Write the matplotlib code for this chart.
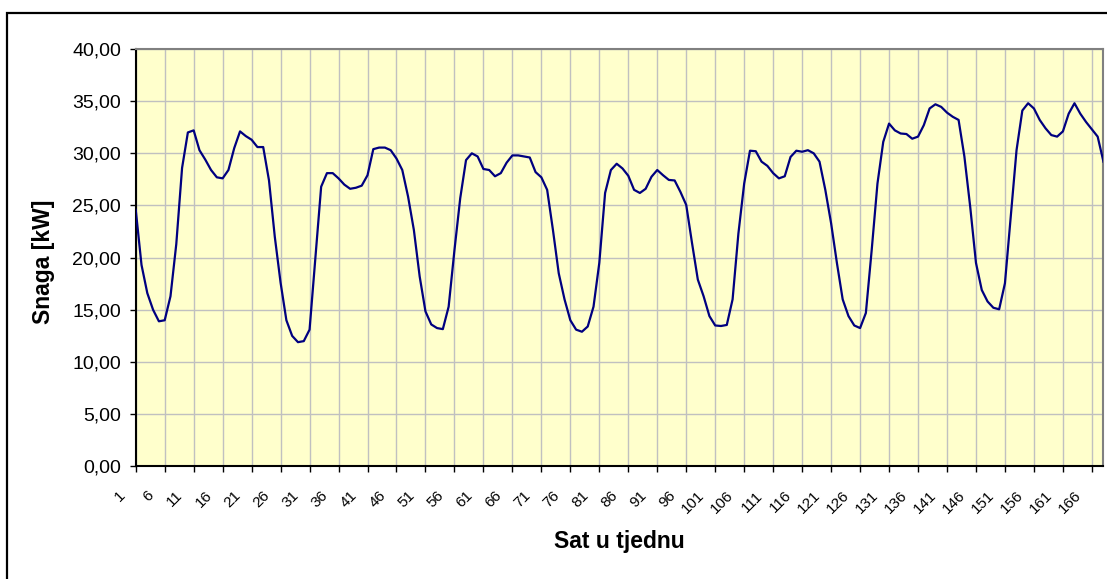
import matplotlib
matplotlib.use('Agg')
import matplotlib.pyplot as plt
import matplotlib.transforms as mtransforms
from matplotlib.patches import Rectangle
from matplotlib.ticker import FuncFormatter
import numpy as np

plt.rcParams['font.family'] = ['Liberation Sans', 'DejaVu Sans']

# Hourly power over one week (hours 1..168)
hours = np.arange(1, 169)
power_kw = [
    24.6, 19.3, 16.6, 15.0, 13.9, 14.0, 16.3, 21.3, 28.6, 32.0,
    32.2, 30.3, 29.4, 28.4, 27.7, 27.6, 28.4, 30.5, 32.1, 31.65,
    31.3, 30.6, 30.6, 27.4, 22.0, 17.6, 14.0, 12.5, 11.9, 12.0,
    13.1, 20.0, 26.8, 28.1, 28.1, 27.6, 27.0, 26.6, 26.7, 26.9,
    27.9, 30.4, 30.55, 30.55, 30.3, 29.5, 28.4, 25.85, 22.65, 18.2,
    14.85, 13.6, 13.25, 13.15, 15.3, 20.7, 25.7, 29.35, 30.0, 29.7,
    28.5, 28.4, 27.8, 28.1, 29.1, 29.8, 29.8, 29.7, 29.6, 28.2,
    27.7, 26.5, 22.65, 18.5, 16.0, 14.0, 13.1, 12.9, 13.4, 15.3,
    19.5, 26.2, 28.4, 29.0, 28.55, 27.85, 26.5, 26.2, 26.6, 27.75,
    28.4, 27.9, 27.45, 27.4, 26.3, 25.05, 21.4, 17.9, 16.3, 14.4,
    13.5, 13.45, 13.55, 16.0, 22.3, 27.1, 30.25, 30.2, 29.2, 28.8,
    28.1, 27.6, 27.8, 29.65, 30.25, 30.15, 30.3, 30.0, 29.2, 26.5,
    23.3, 19.5, 16.0, 14.4, 13.5, 13.25, 14.7, 20.7, 27.1, 31.1,
    32.85, 32.2, 31.9, 31.85, 31.4, 31.6, 32.7, 34.3, 34.7, 34.45,
    33.9, 33.5, 33.2, 29.7, 24.9, 19.5, 16.9, 15.8, 15.2, 15.05,
    17.55, 23.9, 30.3, 34.1, 34.8, 34.3, 33.2, 32.4, 31.75, 31.6,
    32.1, 33.8, 34.8, 33.8, 33.0, 32.3, 31.6, 29.2,
]
x_ticks = list(range(1, 167, 5))
y_ticks = list(range(0, 41, 5))

fig = plt.figure(figsize=(11.07, 5.79), dpi=100)
ax = fig.add_axes([0.1226, 0.1946, 0.8742, 0.7208])

# chart area border
fig.patches.append(Rectangle((7 / 1107, -0.01), 1.02, 1 - 13 / 579 + 0.01,
                             transform=fig.transFigure, fill=False,
                             edgecolor='black', linewidth=1.6))

ax.set_facecolor('#ffffcc')
ax.plot(hours, power_kw, color='#000080', linewidth=1.6, zorder=3)

ax.set_xlim(1, 168)
ax.set_ylim(0, 40)
ax.set_xticks(x_ticks)
ax.set_yticks(y_ticks)
ax.yaxis.set_major_formatter(FuncFormatter(lambda v, p: f"{v:.2f}".replace('.', ',')))
ax.grid(True, color='#c0c0c0', linewidth=1.0)
ax.set_axisbelow(True)

ax.tick_params(axis='y', direction='out', length=4.5, width=1, labelsize=14, pad=6)
ax.tick_params(axis='x', direction='out', length=4.5, width=1, labelsize=11, pad=15)

offset = mtransforms.ScaledTranslation(-13 / 100, 0, fig.dpi_scale_trans)
for lab in ax.get_xticklabels():
    lab.set_rotation(45)
    lab.set_ha('right')
    lab.set_va('center')
    lab.set_rotation_mode('anchor')
    lab.set_transform(lab.get_transform() + offset)

for side in ['left', 'bottom']:
    ax.spines[side].set_color('black')
    ax.spines[side].set_linewidth(1.5)
for side in ['top', 'right']:
    ax.spines[side].set_color('#808080')
    ax.spines[side].set_linewidth(1.5)

ax.set_xlabel('Sat u tjednu', fontsize=16.5, fontweight='bold')
ax.set_ylabel('Snaga [kW]', fontsize=16.5, fontweight='bold')
ax.xaxis.set_label_coords(0.5, -0.152)
ax.yaxis.set_label_coords(-0.083, 0.49)

plt.savefig('out.png', dpi=100)
